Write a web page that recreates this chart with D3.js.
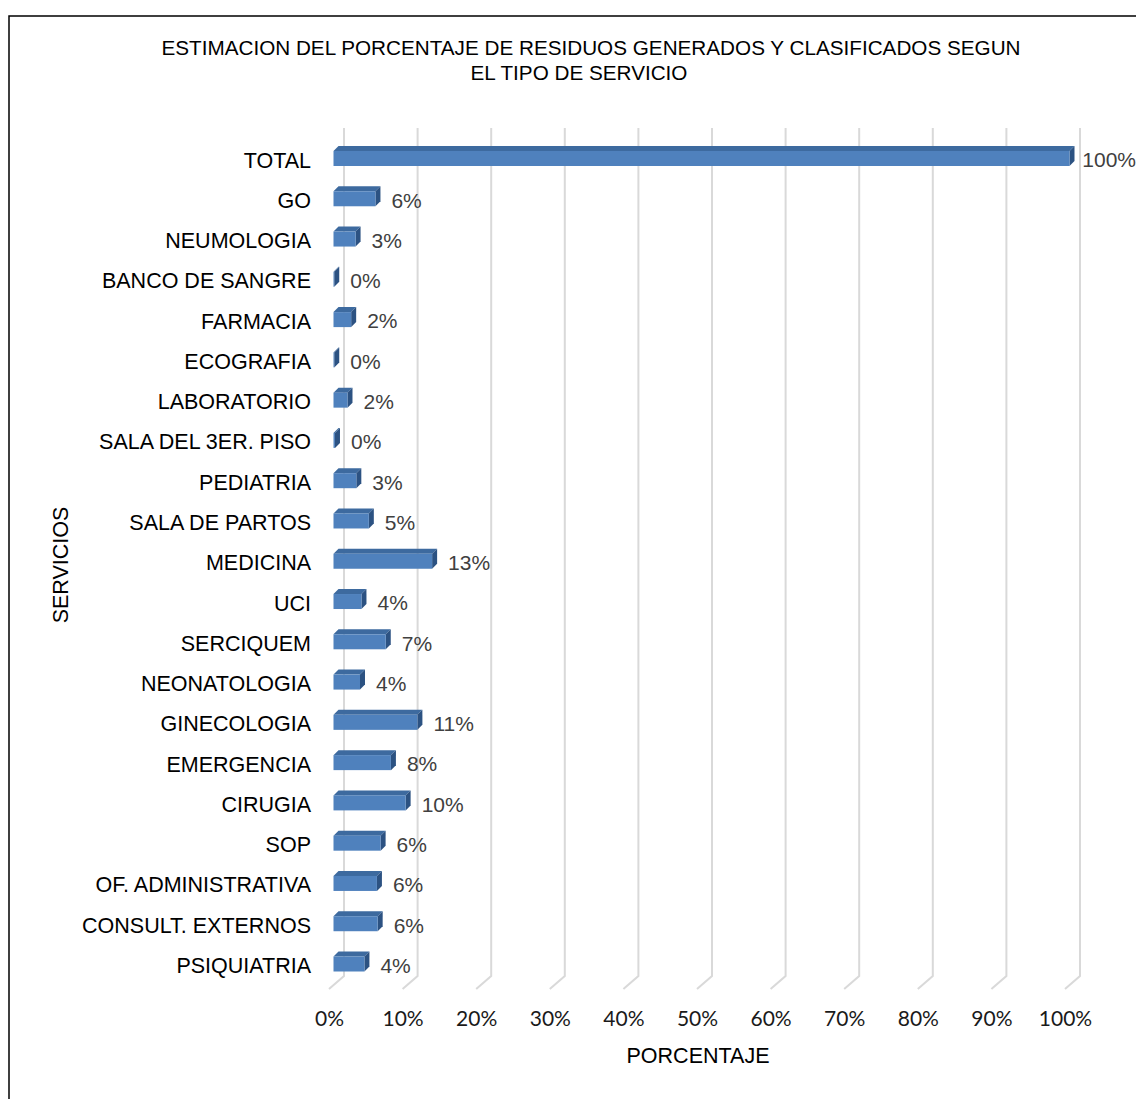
<!DOCTYPE html>
<html>
<head>
<meta charset="utf-8">
<script src="https://cdn.jsdelivr.net/npm/d3@7"></script>
<style>
  body { margin: 0; background: #fff; }
  svg text { font-family: "Liberation Sans", Arial, sans-serif; }
</style>
</head>
<body>
<script>
const W = 1136, H = 1099;

// data (top to bottom)
const servicios = ["TOTAL", "GO", "NEUMOLOGIA", "BANCO DE SANGRE", "FARMACIA", "ECOGRAFIA",
  "LABORATORIO", "SALA DEL 3ER. PISO", "PEDIATRIA", "SALA DE PARTOS", "MEDICINA", "UCI",
  "SERCIQUEM", "NEONATOLOGIA", "GINECOLOGIA", "EMERGENCIA", "CIRUGIA", "SOP",
  "OF. ADMINISTRATIVA", "CONSULT. EXTERNOS", "PSIQUIATRIA"];
const porcentajes = [100, 5.7, 3.0, 0.1, 2.4, 0.1, 1.9, 0.2, 3.1, 4.8, 13.4, 3.8,
  7.1, 3.6, 11.4, 7.8, 9.8, 6.4, 5.9, 6.0, 4.2];
const etiquetas = ["100%", "6%", "3%", "0%", "2%", "0%", "2%", "0%", "3%", "5%", "13%", "4%",
  "7%", "4%", "11%", "8%", "10%", "6%", "6%", "6%", "4%"];
const ticks = [0, 10, 20, 30, 40, 50, 60, 70, 80, 90, 100];

const svg = d3.select("body").append("svg").attr("width", W).attr("height", H);

// outer frame
svg.append("rect").attr("x", 9).attr("y", 16).attr("width", 1200).attr("height", 1200)
  .attr("fill", "none").attr("stroke", "#000").attr("stroke-width", 1.5);

// title
const title = svg.append("text").attr("text-anchor", "middle")
  .style("font-size", "20.7px").attr("fill", "#000");
title.append("tspan").attr("x", 591).attr("y", 55).text("ESTIMACION DEL PORCENTAJE DE RESIDUOS GENERADOS Y CLASIFICADOS SEGUN");
title.append("tspan").attr("x", 579).attr("y", 80).text("EL TIPO DE SERVICIO");

// 3D layout: back wall, floor depth, bar plane
const depthX = -15, depthY = 13;          // back wall -> front edge of floor
const xBack = d3.scaleLinear().domain([0, 100]).range([344, 1080]);
const xBar = d3.scaleLinear().domain([0, 100]).range([333.5, 1069.5]);
const y = d3.scalePoint().domain(servicios).range([158.5, 964]);
const wallTop = 128, wallBottom = 976;
const barH = 15, bdx = 5, bdy = -5;

// gridlines on back wall + floor
const grid = svg.append("g");
ticks.forEach(t => {
  const xb = xBack(t);
  grid.append("path")
    .attr("d", `M${xb},${wallTop} L${xb},${wallBottom} L${xb + depthX},${wallBottom + depthY}`)
    .attr("fill", "none").attr("stroke", "#d9d9d9").attr("stroke-width", 2);
});

// tick labels along the front edge
const xFront = d3.scaleLinear().domain([0, 100]).range([344 + depthX, 1080 + depthX]);
const xAxis = d3.axisBottom(xFront).tickValues(ticks).tickFormat(d => d + "%").tickSize(0).tickPadding(0);
const gx = svg.append("g").attr("transform", "translate(0,1019)").call(xAxis);
gx.select(".domain").remove();
gx.selectAll("text").attr("dy", "0.35em").attr("y", 0)
  .style("font-family", "Lato, 'Open Sans', sans-serif").style("font-size", "21px").attr("fill", "#1a1a1a");

// bars (front, top, side faces)
const bars = svg.append("g").selectAll("g").data(servicios).join("g");
bars.each(function(d, i) {
  const g = d3.select(this);
  const x0 = xBar(0), x1 = xBar(porcentajes[i]);
  const yt = y(d) - barH / 2, yb = y(d) + barH / 2;
  g.append("path").attr("d", `M${x0},${yt} L${x0 + bdx},${yt + bdy} L${x1 + bdx},${yt + bdy} L${x1},${yt}Z`)
    .attr("fill", "#3d6a9f");
  g.append("path").attr("d", `M${x1},${yt} L${x1 + bdx},${yt + bdy} L${x1 + bdx},${yb + bdy} L${x1},${yb}Z`)
    .attr("fill", "#2c5282");
  g.append("rect").attr("x", x0).attr("y", yt).attr("width", x1 - x0).attr("height", barH)
    .attr("fill", "#4f81bd");
});

// category labels
svg.append("g").selectAll("text").data(servicios).join("text")
  .attr("x", 311).attr("y", d => y(d) + 1.5).attr("dy", "0.35em").attr("text-anchor", "end")
  .style("font-size", "21.5px").attr("fill", "#000").text(d => d);

// data labels
svg.append("g").selectAll("text").data(servicios).join("text")
  .attr("x", (d, i) => xBar(porcentajes[i]) + 16).attr("y", d => y(d) + 1.5).attr("dy", "0.35em")
  .style("font-size", "21px").attr("fill", "#404040").text((d, i) => etiquetas[i])
  .each(function() {
    const w = this.getComputedTextLength();
    const x = +d3.select(this).attr("x");
    if (x + w > W) d3.select(this).attr("x", W - w);
  });

// axis titles
svg.append("text").attr("x", 698).attr("y", 1055).attr("dy", "0.35em").attr("text-anchor", "middle")
  .style("font-size", "21.5px").attr("fill", "#000").text("PORCENTAJE");
svg.append("text").attr("transform", "translate(60,565) rotate(-90)").attr("dy", "0.35em")
  .attr("text-anchor", "middle").style("font-size", "21.5px").attr("fill", "#000").text("SERVICIOS");
</script>
</body>
</html>
